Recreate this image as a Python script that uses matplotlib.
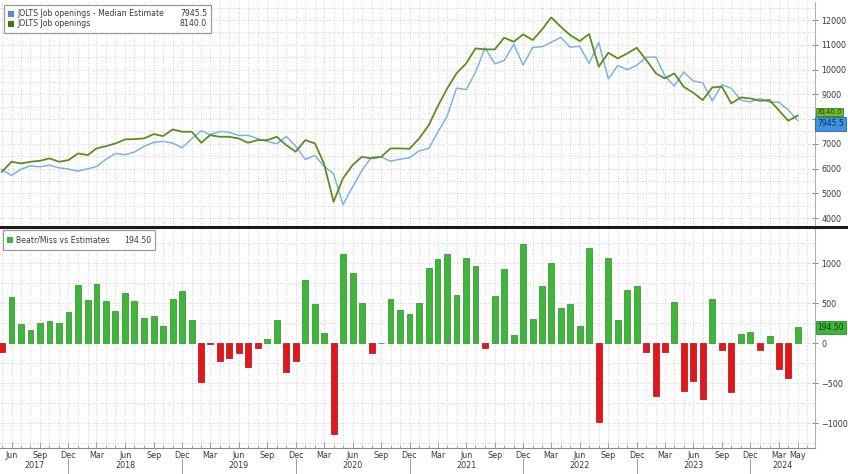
import numpy as np
import pandas as pd
import matplotlib
matplotlib.use('Agg')
import matplotlib.pyplot as plt
import matplotlib.dates as mdates
from matplotlib.patches import Rectangle
from matplotlib.lines import Line2D
from matplotlib.ticker import MultipleLocator

# monthly JOLTS releases, May 2017 .. May 2024
months = pd.date_range('2017-05-01', periods=85, freq='MS')

actual = [5870, 6275, 6208, 6275, 6316, 6410, 6275, 6343, 6612, 6545,
          6814, 6908, 7016, 7178, 7191, 7218, 7393, 7312, 7582, 7488,
          7488, 7043, 7353, 7285, 7285, 7218, 7043, 7150, 7150, 7285,
          6948, 6680, 7150, 7016, 6208, 4659, 5602, 6141, 6477, 6410,
          6477, 6814, 6814, 6800, 7218, 7757, 8498, 9239, 9845, 10249,
          10855, 10815, 10815, 11286, 11125, 11421, 11192, 11636, 12108, 11731,
          11394, 11151, 11434, 10114, 10680, 10451, 10653, 10882, 10384, 9845,
          9643, 9845, 9306, 9063, 8767, 9279, 9306, 8632, 8875, 8834,
          8740, 8767, 8363, 7932, 8140]

estimate = [5960, 5720, 5970, 6110, 6070, 6140, 6030, 5980, 5900, 5990,
            6080, 6380, 6610, 6560, 6670, 6900, 7060, 7100, 7030, 6840,
            7200, 7530, 7370, 7500, 7470, 7340, 7340, 7210, 7095, 7000,
            7300, 6905, 6370, 6530, 6090, 5795, 4540, 5263, 5920, 6470,
            6472, 6300, 6380, 6440, 6718, 6816, 7451, 8124, 9251, 9189,
            9893, 10879, 10230, 10366, 11019, 10183, 10895, 10924, 11103, 11299,
            10906, 10939, 10247, 11098, 9620, 10163, 9996, 10170, 10499, 10502,
            9749, 9332, 9900, 9538, 9467, 8728, 9391, 9247, 8761, 8694,
            8833, 8682, 8689, 8369, 7945.5]

surprise = [-115, 572, 242, 157, 254, 276, 254, 382, 721, 543,
            734, 530, 403, 623, 522, 310, 335, 212, 555, 649,
            288, -488, -13, -225, -191, -127, -297, -64, 55, 284,
            -360, -225, 784, 488, 119, -1136, 1115, 878, 500, -123,
            5, 551, 411, 360, 500, 941, 1047, 1115, 594, 1060,
            962, -64, 585, 920, 106, 1238, 297, 712, 1005, 432,
            488, 212, 1187, -984, 1060, 288, 657, 712, -115, -657,
            -106, 513, -594, -475, -700, 551, -85, -615, 114, 140,
            -93, 85, -326, -437, 194.5]

# labelled months on the x axis (quarterly, plus the last release)
tick_dates = list(pd.date_range('2017-06-01', '2024-03-01', freq='3MS')) + [pd.Timestamp('2024-05-01')]
years = [2017, 2018, 2019, 2020, 2021, 2022, 2023, 2024]

W, H = 848, 474
BLUE = '#7ab4e2'
OLIVE = '#5f8c1e'
GREEN = '#3fb53a'
RED = '#e3161b'
TXT = '#3a3a3a'
GRID = dict(ls=(0, (1, 2)), lw=0.6, color='#c4c4c4')


def fx(px):
    return px / W


def fy(py):
    return 1 - py / H


fig = plt.figure(figsize=(W / 100, H / 100), dpi=100)
fig.patch.set_facecolor('white')
ax1 = fig.add_axes([0, fy(226), fx(815), (226 - 2) / H])
ax2 = fig.add_axes([0, fy(448), fx(815), (448 - 229) / H], sharex=ax1)

x = mdates.date2num(months)

ax1.plot(x, estimate, color=BLUE, lw=1.1, zorder=3)
ax1.plot(x, actual, color=OLIVE, lw=1.3, zorder=4)

colors = [GREEN if v >= 0 else RED for v in surprise]
edges = ['#2b8f28' if v >= 0 else '#a80d10' for v in surprise]
ax2.bar(x, surprise, width=19, color=colors, edgecolor=edges, lw=0.5, zorder=3)

left = mdates.date2num(pd.Timestamp('2017-04-25'))
right = mdates.date2num(pd.Timestamp('2024-06-26'))
ax1.set_xlim(left, right)
ax1.set_ylim(3680, 12730)
ax2.set_ylim(-1312, 1425)

ax1.yaxis.set_major_locator(MultipleLocator(1000))
ax1.yaxis.set_minor_locator(MultipleLocator(500))
ax2.yaxis.set_major_locator(MultipleLocator(500))
ax2.yaxis.set_minor_locator(MultipleLocator(250))
ax2.xaxis.set_minor_locator(mdates.MonthLocator())
ax2.set_xticks(mdates.date2num(tick_dates))
ax2.set_xticklabels([d.strftime('%b') for d in tick_dates])

for ax in (ax1, ax2):
    ax.set_facecolor('white')
    ax.yaxis.tick_right()
    ax.grid(which='both', axis='both', **GRID)
    ax.set_axisbelow(True)
    for s in ('top', 'left'):
        ax.spines[s].set_visible(False)
    ax.spines['right'].set_color('#a9b3b3')
    ax.spines['right'].set_linewidth(0.8)
    ax.tick_params(axis='y', which='major', direction='inout', length=5,
                   width=0.6, color='#777777', labelsize=5.8,
                   labelcolor=TXT, pad=2)
    ax.tick_params(axis='y', which='minor', length=0)

ax1.spines['bottom'].set_visible(False)
ax1.tick_params(axis='x', which='both', length=0, labelbottom=False)
ax2.spines['bottom'].set_color('#8a8a8a')
ax2.spines['bottom'].set_linewidth(0.8)
ax2.tick_params(axis='x', which='major', direction='in', length=4, width=0.6,
                color='#8a8a8a', labelsize=5.8, labelcolor=TXT, pad=2)
ax2.tick_params(axis='x', which='minor', direction='in', length=2, width=0.5,
                color='#8a8a8a')

# year row with separators at each December
seps = [mdates.date2num(pd.Timestamp(f'{y}-12-01')) for y in years[:-1]]
bounds = [left] + seps + [right]
trans = ax2.get_xaxis_transform()
for i, y in enumerate(years):
    ax2.text((bounds[i] + bounds[i + 1]) / 2, -(466 - 448) / 219, str(y),
             transform=trans, ha='center', va='center', fontsize=5.8,
             color=TXT, clip_on=False)
for s in seps:
    ax2.add_line(Line2D([s, s], [-(459 - 448) / 219, -(474 - 448) / 219],
                        transform=trans, color='#9a9a9a', lw=0.7,
                        clip_on=False))

# value tags on the right axis, stacked so they just touch
ax1.text(1.003, actual[-1] + 140, f'{actual[-1]:.1f}', transform=ax1.get_yaxis_transform(),
         ha='left', va='center', fontsize=5.0, color='#1f3d00', clip_on=False, zorder=5,
         bbox=dict(boxstyle='square,pad=0.15', fc='#6fbf2a', ec='#3e7d12', lw=0.6))
ax1.text(1.003, estimate[-1] - 140, f'{estimate[-1]:.1f}', transform=ax1.get_yaxis_transform(),
         ha='left', va='center', fontsize=5.5, color='#0c2a55', clip_on=False, zorder=6,
         bbox=dict(boxstyle='square,pad=0.3', fc='#3f93e0', ec='#2266aa', lw=0.6))
ax2.text(1.003, surprise[-1], f'{surprise[-1]:.2f}', transform=ax2.get_yaxis_transform(),
         ha='left', va='center', fontsize=5.5, color='#0d3b0d', clip_on=False,
         bbox=dict(boxstyle='square,pad=0.25', fc='#3fb53a', ec='#2b8f28', lw=0.6))

# separator between the panels
fig.add_artist(Line2D([0, 1], [fy(227), fy(227)], transform=fig.transFigure,
                      color='#1a1a1a', lw=2.2))


# legends drawn as boxes like the terminal does
def legend_box(x0, y0, x1, y1, rows):
    fig.add_artist(Rectangle((fx(x0), fy(y1)), fx(x1 - x0), (y1 - y0) / H,
                             transform=fig.transFigure, fc='white',
                             ec='#9a9a9a', lw=0.9, zorder=10))
    for py, col, label, val in rows:
        fig.add_artist(Rectangle((fx(x0 + 4), fy(py + 3)), fx(6), 6 / H,
                                 transform=fig.transFigure, fc=col,
                                 ec='none', zorder=11))
        fig.text(fx(x0 + 13), fy(py), label, ha='left', va='center',
                 fontsize=5.6, color=TXT, zorder=12)
        fig.text(fx(x1 - 4), fy(py), val, ha='right', va='center',
                 fontsize=5.6, color=TXT, zorder=12)


legend_box(4, 5, 211, 33, [
    (14, '#4d8fdc', 'JOLTS Job openings - Median Estimate', f'{estimate[-1]:.1f}'),
    (24, '#3f7a10', 'JOLTS Job openings', f'{actual[-1]:.1f}'),
])
legend_box(3, 230, 155, 250, [
    (240, '#3fb53a', 'Beatr/Miss vs Estimates', f'{surprise[-1]:.2f}'),
])

fig.savefig('out.png', dpi=100)
